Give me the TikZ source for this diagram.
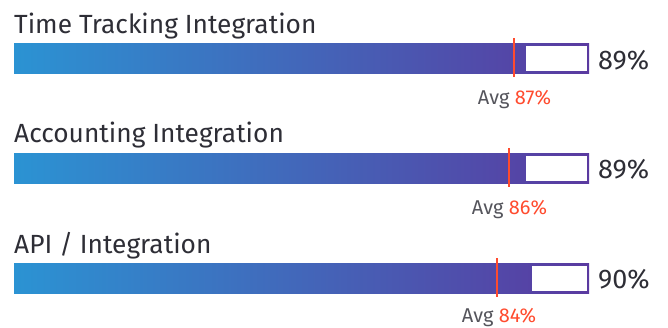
\documentclass[tikz,border=0pt]{standalone}
\usepackage{fontspec}
\setmainfont{Fira Sans}
\definecolor{txt}{HTML}{2E2E36}
\definecolor{gtxt}{HTML}{55555C}
\definecolor{avgred}{HTML}{FF4B2E}
\definecolor{barA}{HTML}{2B93D3}
\definecolor{barB}{HTML}{5A3AA0}
\definecolor{frame}{HTML}{5B3CA0}
\begin{document}
\begin{tikzpicture}[x=1pt,y=-1pt,
  title/.style={anchor=base west,inner sep=0pt,text=txt,font=\fontsize{26.3}{26}\selectfont},
  pct/.style={anchor=base west,inner sep=0pt,text=txt,font=\fontsize{27}{27}\selectfont},
  avg/.style={anchor=base,inner sep=0pt,text=gtxt,font=\fontsize{20}{20}\selectfont},
  avgline/.style={draw=avgred,line width=2.2pt},
  barbox/.style={draw=none,left color=barA,right color=barB,shading angle=90},
  gap/.style={fill=white,draw=none}]
\useasboundingbox (0,0) rectangle (668,327);
% bar 1
\node[title] (t1) at (14,33) {Time Tracking Integration};
\path[barbox] (14,43) rectangle (589,73);
\path[gap] (526,45.5) rectangle (587,71);
\coordinate (a1t) at (514,38); \coordinate (a1b) at (514,77);
\draw[avgline] (a1t) -- (a1b);
\node[pct] (p1) at (598,69) {89\%};
\node[avg] (v1) at (514.5,104) {Avg \textcolor{avgred}{87\%}};
% bar 2
\node[title] (t2) at (14,142) {Accounting Integration};
\path[barbox] (14,153) rectangle (589,183);
\path[gap] (526,155.5) rectangle (587,181);
\coordinate (a2t) at (509,148); \coordinate (a2b) at (509,187);
\draw[avgline] (a2t) -- (a2b);
\node[pct] (p2) at (598,178) {89\%};
\node[avg] (v2) at (509.5,214) {Avg \textcolor{avgred}{86\%}};
% bar 3
\node[title] (t3) at (14,253) {API / Integration};
\path[barbox] (14,263.5) rectangle (589,293);
\path[gap] (532,266) rectangle (587,291);
\coordinate (a3t) at (497,258); \coordinate (a3b) at (497,297);
\draw[avgline] (a3t) -- (a3b);
\node[pct] (p3) at (598,288) {90\%};
\node[avg] (v3) at (499,322.5) {Avg \textcolor{avgred}{84\%}};
\end{tikzpicture}
\end{document}
